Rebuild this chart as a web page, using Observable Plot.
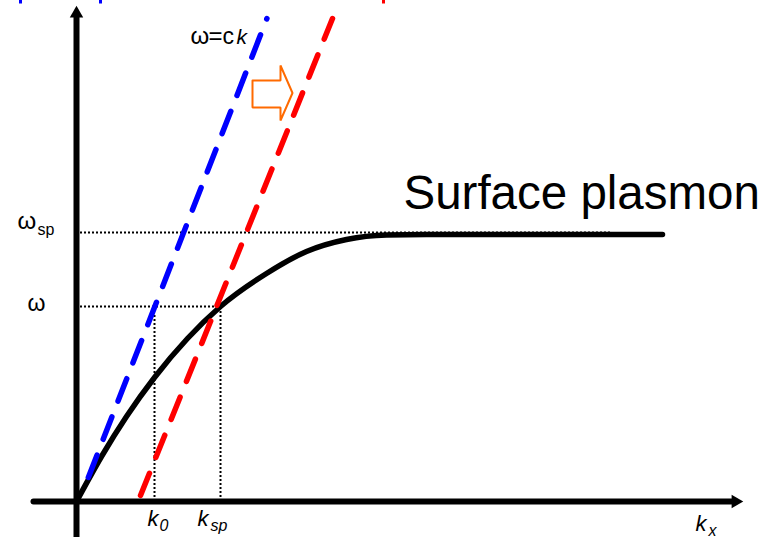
<!DOCTYPE html>
<html><head><meta charset="utf-8">
<script src="https://cdn.jsdelivr.net/npm/d3@7"></script>
<script src="https://cdn.jsdelivr.net/npm/@observablehq/plot@0.6"></script>
<style>html,body{margin:0;padding:0;background:#fff;} svg{display:block}</style>
</head><body><div id="chart"></div>
<script>
// Surface plasmon dispersion curve (k_x, ω), arbitrary units
const spK = [0, 0.25, 0.5, 0.78, 1.11, 1.44, 1.9, 2.3, 2.7, 3.1, 3.5, 5.86];
const spW = [0, 0.45, 0.85, 1.24, 1.63, 1.95, 2.28, 2.50, 2.62, 2.665, 2.67, 2.67];
// light line ω = ck (blue) and shifted light line (red)
const lightK = [0.118, 1.904];
const lightW = [0.24, 4.83];
const shiftedK = [0.64, 2.56];
const shiftedW = [0.06, 4.83];
// marked values
const k0 = 0.78, ksp = 1.44, omega = 1.95, omegaSp = 2.69;
// orange "shift" block arrow outline
const arrowK = [1.76, 2.04, 2.04, 2.16, 2.04, 2.04, 1.76, 1.76];
const arrowW = [4.21, 4.21, 4.36, 4.085, 3.81, 3.94, 3.94, 4.21];
// axes extents
const xAxisK = [-0.43, 6.55];
const yAxisW = [-0.36, 4.85];

const curve = spK.map((k, i) => ({k, w: spW[i]}));
const light = lightK.map((k, i) => ({k, w: lightW[i]}));
const shifted = shiftedK.map((k, i) => ({k, w: shiftedW[i]}));
const arrow = arrowK.map((k, i) => ({k, w: arrowW[i]}));

const FONT = "Liberation Sans, Arial, Helvetica, sans-serif";
const txt = (t, k, w, size, style = "normal", anchor = "start") =>
  Plot.text([t], {x: () => k, y: () => w, text: d => d, fontSize: size, fontStyle: style,
    fontFamily: FONT, textAnchor: anchor, lineAnchor: "bottom", fill: "black"});

const dotted = {stroke: "black", strokeWidth: 2, strokeDasharray: "2,2"};

const chart = Plot.plot({
  width: 773, height: 537,
  marginLeft: 0, marginRight: 0, marginTop: 0, marginBottom: 0,
  x: {domain: [-0.76, 6.97], axis: null},
  y: {domain: [-0.36, 5.01], axis: null},
  style: {background: "white", fontFamily: FONT},
  marks: [
    // tiny cropped remnants at top edge
    Plot.ruleX([-0.56, 0.24], {x: d => d, y1: 4.975, y2: 5.01, stroke: "blue", strokeWidth: 3}),
    Plot.ruleX([3.07], {x: d => d, y1: 4.975, y2: 5.01, stroke: "red", strokeWidth: 3}),
    // dotted guides
    Plot.ruleY([omegaSp], {y: d => d, x1: 0.04, x2: 5.34, ...dotted}),
    Plot.ruleY([omega], {y: d => d, x1: 0.04, x2: ksp, ...dotted}),
    Plot.ruleX([k0], {x: d => d, y1: 0, y2: 1.86, ...dotted}),
    Plot.ruleX([ksp], {x: d => d, y1: 0, y2: omega, ...dotted}),
    // dispersion curve
    Plot.line(curve, {x: "k", y: "w", curve: "monotone-x", stroke: "black", strokeWidth: 5.5}),
    // light lines
    Plot.line(light, {x: "k", y: "w", stroke: "#0000ff", strokeWidth: 5.5, strokeDasharray: "24,17"}),
    Plot.line(shifted, {x: "k", y: "w", stroke: "#ff0000", strokeWidth: 5.5, strokeDasharray: "24,17"}),
    // orange arrow
    Plot.line(arrow, {x: "k", y: "w", stroke: "#ff6a00", strokeWidth: 2, strokeLinejoin: "miter"}),
    // axes
    Plot.line([{k: xAxisK[0], w: 0}, {k: xAxisK[1], w: 0}], {x: "k", y: "w", stroke: "black", strokeWidth: 6}),
    Plot.line([{k: 0, w: yAxisW[0]}, {k: 0, w: yAxisW[1]}], {x: "k", y: "w", stroke: "black", strokeWidth: 6}),
    Plot.dot([{k: 0, w: 4.88}], {x: "k", y: "w", symbol: "triangle", r: 5, fill: "black", stroke: null}),
    Plot.dot([{k: 6.59, w: 0}], {x: "k", y: "w", symbol: "triangle", r: 5, fill: "black", stroke: null, rotate: 90}),
    // labels
    txt("ω", 1.14, 4.58, 24),
    txt("=", 1.32, 4.58, 24),
    txt("c", 1.46, 4.58, 23),
    txt("k", 1.60, 4.58, 21, "italic"),
    txt("Surface plasmon", 3.27, 2.93, 47.5),
    txt("ω", -0.59, 2.73, 24),
    txt("sp", -0.39, 2.67, 16),
    txt("ω", -0.49, 1.91, 23),
    txt("k", 0.71, -0.24, 22, "italic"),
    txt("0", 0.83, -0.29, 16, "italic"),
    txt("k", 1.21, -0.24, 22, "italic"),
    txt("sp", 1.34, -0.29, 16, "italic"),
    txt("k", 6.19, -0.29, 22, "italic"),
    txt("x", 6.32, -0.34, 16, "italic")
  ]
});
document.getElementById("chart").appendChild(chart);
</script>
</body></html>
